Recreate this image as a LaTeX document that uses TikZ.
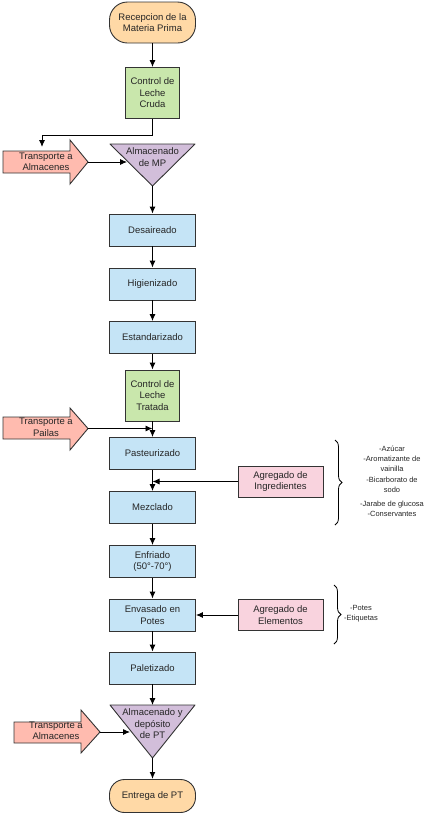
\documentclass[tikz,border=0pt]{standalone}
\usepackage{fontspec}
\setmainfont{Liberation Sans}
\usetikzlibrary{shapes,arrows,arrows.meta,positioning,decorations.pathreplacing}

\definecolor{termorange}{HTML}{FFD9A6}
\definecolor{ctrlgreen}{HTML}{C9E7AC}
\definecolor{procblue}{HTML}{C5E4F6}
\definecolor{addpink}{HTML}{F9D3DE}
\definecolor{transsalmon}{HTML}{FFBBAF}
\definecolor{storepurple}{HTML}{D2BEDA}
\definecolor{linegray}{HTML}{333333}

\begin{document}
\begin{tikzpicture}[
        x=1pt, y=1pt,
        every node/.style = {font=\fontsize{9.5}{11.5}\selectfont, align=center, text=black!85},
        proc/.style = {rectangle, draw=linegray, line width=0.9pt, fill=procblue, minimum width=86pt, minimum height=32pt, inner sep=1pt},
        ctrl/.style = {rectangle, draw=linegray, line width=0.9pt, fill=ctrlgreen, minimum width=54pt, minimum height=51pt, inner sep=1pt},
        term/.style = {rectangle, draw=linegray, line width=0.9pt, fill=termorange, minimum width=86pt, inner sep=1pt},
        addbox/.style = {rectangle, draw=linegray, line width=0.9pt, fill=addpink, minimum width=85pt, minimum height=31pt, inner sep=1pt},
        store/.style = {draw=linegray, line width=0.9pt, fill=storepurple, line join=round},
        trans/.style = {draw=linegray, line width=0.9pt, fill=transsalmon},
        flow/.style = {-{Latex[length=7pt,width=6pt]}, draw=black, line width=0.9pt},
        curly/.style = {draw=black, line width=0.8pt, decorate, decoration={brace, amplitude=7pt}},
        note/.style = {font=\fontsize{7.5}{10}\selectfont}
    ]
    \useasboundingbox (0,0) rectangle (430,-815);

    %shapes drawn as paths
    \draw[store] (110,-144) -- (195,-144) -- (152.5,-186) -- cycle;
    \draw[store] (110,-705) -- (195,-705) -- (152.5,-758) -- cycle;
    \draw[trans] (3,-151) -- (70,-151) -- (70,-140) -- (88,-162) -- (70,-184) -- (70,-173) -- (3,-173) -- cycle;
    \draw[trans] (3,-417) -- (70,-417) -- (70,-408) -- (88,-428.5) -- (70,-450) -- (70,-439) -- (3,-439) -- cycle;
    \draw[trans] (14,-722) -- (81,-722) -- (81,-710) -- (100,-732) -- (81,-753) -- (81,-743) -- (14,-743) -- cycle;

    %points
    \coordinate (mptip) at (152.5,-186);
    \coordinate (mpin) at (127,-162);
    \coordinate (pdtop) at (152.5,-705);
    \coordinate (pdtip) at (152.5,-758);
    \coordinate (pdin) at (130,-732);
    \coordinate (tra1tip) at (88,-162);
    \coordinate (tra1top) at (42,-147);
    \coordinate (tra2tip) at (88,-428.5);
    \coordinate (tra3tip) at (100,-732);

    %nodes
    \node[term, minimum height=41pt, rounded corners=18pt] (recep) at (152.5,-22.5) {Recepcion de la\\Materia Prima};
    \node[ctrl] (cruda) at (152.5,-93) {Control de\\Leche\\Cruda};
    \node (mp) at (152.5,-157) {Almacenado\\de MP};
    \node (tra1) at (46,-162) {Transporte a\\Almacenes};
    \node[proc] (desair) at (152.5,-230) {Desaireado};
    \node[proc] (higien) at (152.5,-284) {Higienizado};
    \node[proc] (estand) at (152.5,-337.5) {Estandarizado};
    \node[ctrl] (tratada) at (152.5,-395.5) {Control de\\Leche\\Tratada};
    \node (tra2) at (46,-427.5) {Transporte a\\Pailas};
    \node[proc] (pasteur) at (152.5,-453.5) {Pasteurizado};
    \node[proc] (mezcla) at (152.5,-507.5) {Mezclado};
    \node[addbox] (ingred) at (280.5,-481.5) {Agregado de\\Ingredientes};
    \node[proc] (enfria) at (152.5,-561.5) {Enfriado\\(50°-70°)};
    \node[proc] (envasa) at (152.5,-615) {Envasado en\\Potes};
    \node[addbox] (elem) at (280.5,-615) {Agregado de\\Elementos};
    \node[proc] (palet) at (152.5,-668) {Paletizado};
    \node (pd) at (152.5,-724) {Almacenado y\\depósito\\de PT};
    \node (tra3) at (56,-731) {Transporte a\\Almacenes};
    \node[term, minimum height=33pt, rounded corners=15pt] (entrega) at (152.5,-796) {Entrega de PT};

    % lists
    \node[note] (ingrlist) at (392,-481) {-Azúcar\\-Aromatizante de\\vainilla\\[1pt]-Bicarborato de\\sodo\\[4pt]-Jarabe de glucosa\\-Conservantes};
    \node[note] (elemlist) at (361,-614) {-Potes\\-Etiquetas};
    \draw[curly] (335,-440) -- (335,-525);
    \draw[curly] (334,-585) -- (334,-644);

    % flows
    \draw[flow] (recep) -- (cruda);
    \draw[flow] (cruda.south) -- ++(0,-16) -| (tra1top);
    \draw[flow] (tra1tip) -- (mpin);
    \draw[flow] (mptip) -- (desair);
    \draw[flow] (desair) -- (higien);
    \draw[flow] (higien) -- (estand);
    \draw[flow] (estand) -- (tratada);
    \draw[flow] (tratada) -- (pasteur);
    \draw[flow] (tra2tip) -- (pasteur.north |- tra2tip);
    \draw[flow] (pasteur) -- (mezcla);
    \draw[flow] (ingred) -- (pasteur.south |- ingred);
    \draw[flow] (mezcla) -- (enfria);
    \draw[flow] (enfria) -- (envasa);
    \draw[flow] (elem) -- (envasa);
    \draw[flow] (envasa) -- (palet);
    \draw[flow] (palet) -- (pdtop);
    \draw[flow] (tra3tip) -- (pdin);
    \draw[flow, line width=1.6pt] (pdtip) -- (entrega);

\end{tikzpicture}
\end{document}
